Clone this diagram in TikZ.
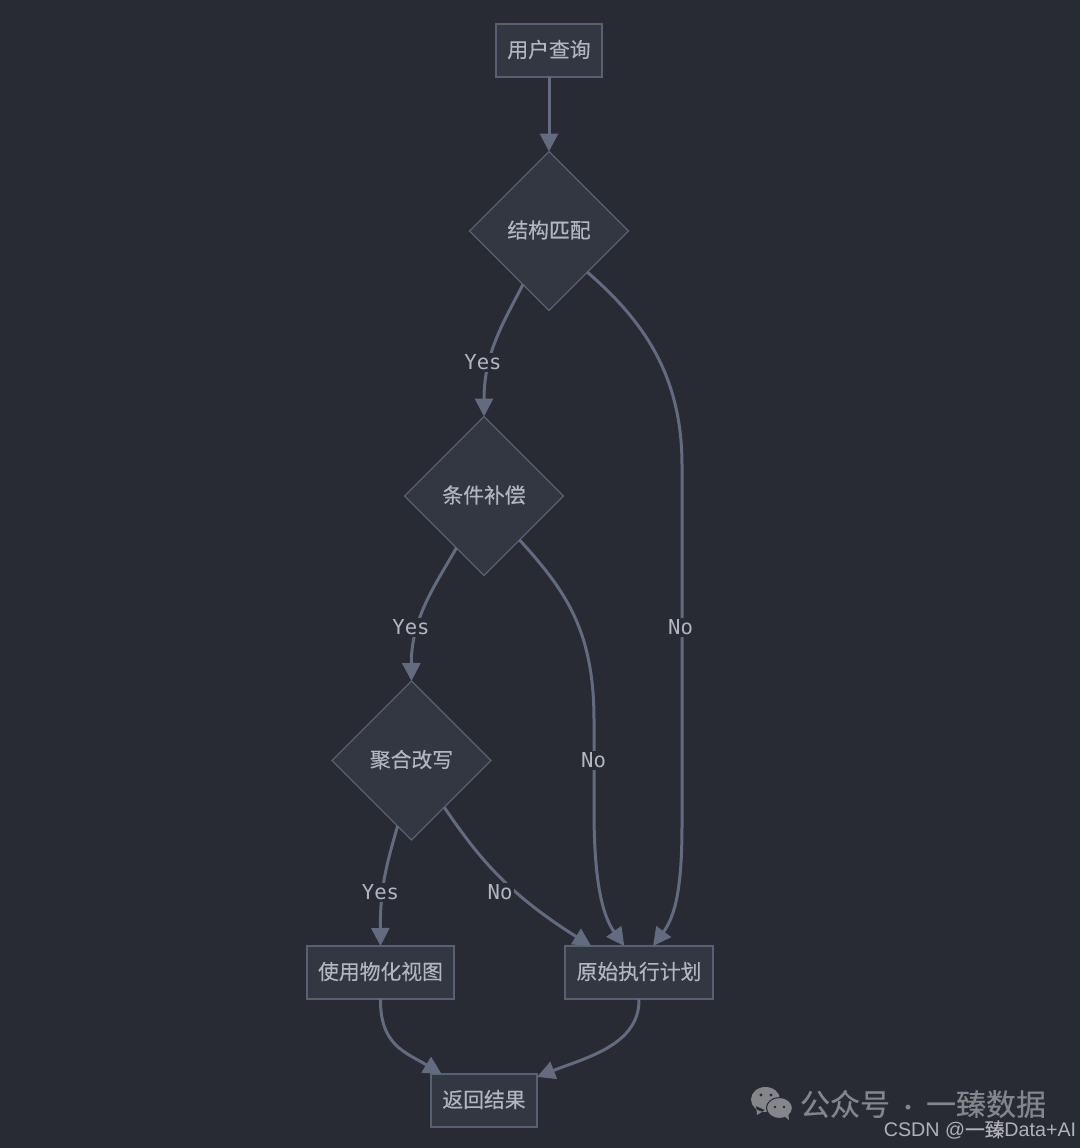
\documentclass[tikz,border=0pt]{standalone}
\usepackage{fontspec}
\setmainfont{Noto Sans CJK SC}[FakeBold=0.35]
\newfontfamily\labelfont{DejaVu Sans Mono}
\newfontfamily\markfont{Liberation Sans}
\usepackage{xcolor}
\usetikzlibrary{arrows.meta, positioning, shapes.geometric}
\definecolor{pagebg}{RGB}{40,43,51}
\definecolor{nodebg}{RGB}{51,55,65}
\definecolor{nodeline}{RGB}{88,96,116}
\definecolor{flowline}{RGB}{99,107,128}
\definecolor{nodetext}{RGB}{178,182,194}
\definecolor{markgray}{RGB}{132,134,138}
\definecolor{marklight}{RGB}{176,178,182}

\begin{document}
\begin{tikzpicture}[x=1pt,y=-1pt,>={Triangle[length=18pt,width=18pt]},
    box/.style={draw=nodeline,fill=nodebg,line width=1.1pt,outer sep=0pt,minimum height=53pt,inner sep=0pt,text=nodetext,text height=18.3pt,text depth=4.5pt,font=\fontsize{20.8}{25}\selectfont},
    decision/.style={diamond,aspect=1,draw=nodeline,fill=nodebg,line width=1.1pt,outer sep=0pt,minimum width=159pt,minimum height=159pt,inner sep=0pt,text=nodetext,text height=18.3pt,text depth=4.5pt,font=\fontsize{20.8}{25}\selectfont},
    flow/.style={->,draw=flowline,line width=3pt},
    edgelabel/.style={fill=pagebg,text=nodetext,inner sep=2pt,font=\labelfont\fontsize{20.6}{25}\selectfont}]
      \path[use as bounding box,fill=pagebg] (0,0) rectangle (1080,1148);

      % Column of decisions
      \node[box,minimum width=106pt] (query) at (549,50.5) {用户查询};
      \node[decision] (match) [below of=query,node distance=180.5pt] {结构匹配};
      \node[decision] (comp) [below of=match,node distance=265pt,xshift=-65pt] {条件补偿};
      \node[decision] (rewrite) [below of=comp,node distance=264.5pt,xshift=-72.5pt] {聚合改写};

      % Results row
      \node[box,minimum width=147pt] (useview) [below of=rewrite,node distance=212pt,xshift=-31pt] {使用物化视图};
      \node[box,minimum width=148pt] (plan) [right of=useview,node distance=258.5pt] {原始执行计划};
      \node[box,minimum width=106pt] (result) [below of=useview,node distance=128pt,xshift=103.5pt] {返回结果};

      % Transitions for yes
      \draw[flow] (query) -- (match.north);
      \draw[flow] (match.244) .. controls (505,320) and (484,352) .. (comp.north);
      \draw[flow] (comp.242) .. controls (436,584) and (411,618) .. (rewrite.north);
      \draw[flow] (rewrite.258) .. controls (388,860) and (380,885) .. (useview.north);

      % Transitions for no
      \draw[flow] (match.-47) .. controls (640,318) and (682,372) .. (682,465) -- (682,825) .. controls (682,885) and (676,915) .. (plan.62);
      \draw[flow] (comp.-51) .. controls (565,590) and (594,630) .. (594,720) -- (594,810) .. controls (594,880) and (602,915) .. (plan.119);
      \draw[flow] (rewrite.-55) .. controls (480,860) and (510,895) .. (plan.151);

      % Into the last box
      \draw[flow] (useview.south) .. controls (380,1045) and (405,1052) .. (result.148);
      \draw[flow] (plan.south) .. controls (640,1045) and (585,1058) .. (result.24);

      % Labels on the edges
      \node[edgelabel] (yesa) at (483,362.5) {Yes};
      \node[edgelabel] (yesb) at (411,627.5) {Yes};
      \node[edgelabel] (yesc) at (380.5,892.5) {Yes};
      \node[edgelabel] (noa) at (680.5,627.5) {No};
      \node[edgelabel] (nob) at (593.5,760.5) {No};
      \node[edgelabel] (noc) at (500,892.5) {No};

      % Watermark
      \fill[markgray] (765.5,1099.5) ellipse (14.5 and 12.5) (756,1106) -- (757,1115) -- (765,1110) -- cycle;
      \fill[markgray,draw=pagebg,line width=1pt] (779.5,1108) ellipse (13 and 10.5);
      \fill[markgray] (783,1115) -- (789,1120) -- (788,1112) -- cycle;
      \fill[pagebg] (761,1095) circle (1.7) (771,1095) circle (1.7) (775,1107) circle (1.4) (784,1107) circle (1.4);
      \node[text=markgray,inner sep=0pt,font=\fontsize{30}{36}\selectfont] (markname) at (923,1104) {公众号\hspace{7pt}{\fontsize{22}{22}\selectfont ·}\hspace{7pt}一臻数据};
      \node[text=marklight,inner sep=0pt,font=\fontsize{19.7}{24}\selectfont] (marksite) at (980,1130) {\markfont CSDN @\rmfamily 一臻\markfont Data+AI};
\end{tikzpicture}
\end{document}
